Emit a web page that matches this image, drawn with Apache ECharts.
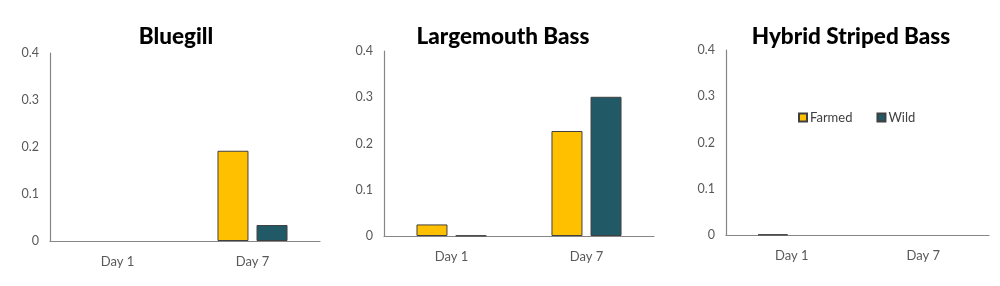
<!DOCTYPE html>
<html><head><meta charset="utf-8">
<script src="https://cdn.jsdelivr.net/npm/echarts@6/dist/echarts.min.js"></script>
<style>html,body{margin:0;padding:0;background:#fff}#c{width:1000px;height:286px}</style>
</head><body><div id="c"></div>
<script>
const categories = ['Day 1', 'Day 7'];
const titles = ['Bluegill', 'Largemouth Bass', 'Hybrid Striped Bass'];
const seriesNames = ['Farmed', 'Wild'];
const farmed = [
  [0, 0.192],
  [0.025, 0.227],
  [0.001, 0]
];
const wild = [
  [0, 0.034],
  [0.001, 0.301],
  [0, 0]
];
const yTicks = [0, 0.1, 0.2, 0.3, 0.4];

const FONT = 'Lato';
const grids = [
  {left: 50, top: 53, width: 270, height: 188},
  {left: 384, top: 51, width: 270, height: 185},
  {left: 726, top: 50, width: 263, height: 185}
];
const titleX = [176, 503, 851];
const colors = ['#FFC000', '#215967'];

const option = {
  animation: false,
  backgroundColor: '#fff',
  title: titles.map((t, i) => ({
    text: t, left: titleX[i], top: 25, textAlign: 'center', padding: 0,
    textStyle: {fontFamily: FONT, fontWeight: 900, fontSize: 22.5, color: '#000'}
  })),
  legend: {
    data: seriesNames, left: 793, top: 106, itemWidth: 8, itemHeight: 8, itemGap: 24,
    icon: 'rect',
    textStyle: {fontFamily: FONT, fontSize: 13, color: '#404040', padding: [0, 0, 0, -2]}
  },
  grid: grids,
  xAxis: grids.map((g, i) => ({
    type: 'category', gridIndex: i, data: categories,
    axisLine: {lineStyle: {color: '#868686', width: 1.2}},
    axisTick: {show: false},
    axisLabel: {fontFamily: FONT, fontSize: 13, color: '#595959', margin: 14}
  })),
  yAxis: grids.map((g, i) => ({
    type: 'value', gridIndex: i, min: 0, max: 0.4, interval: 0.1,
    axisLine: {show: true, lineStyle: {color: '#868686', width: 1.2}},
    axisTick: {show: false},
    splitLine: {show: false},
    axisLabel: {fontFamily: FONT, fontSize: 12.5, color: '#595959', margin: 11,
      formatter: v => yTicks.includes(Math.round(v * 10) / 10) ? String(Math.round(v * 10) / 10) : ''}
  })),
  series: []
};
for (let i = 0; i < 3; i++) {
  [farmed[i], wild[i]].forEach((d, k) => {
    option.series.push({
      type: 'bar', name: seriesNames[k], xAxisIndex: i, yAxisIndex: i,
      data: d.map(v => v === 0 ? {value: v, itemStyle: {borderWidth: 0}} : v),
      barWidth: i === 2 ? 30 : 31, barGap: '26%',
      itemStyle: {color: colors[k], borderColor: '#404040', borderWidth: 1}
    });
  });
}
echarts.init(document.getElementById('c')).setOption(option);
</script></body></html>
